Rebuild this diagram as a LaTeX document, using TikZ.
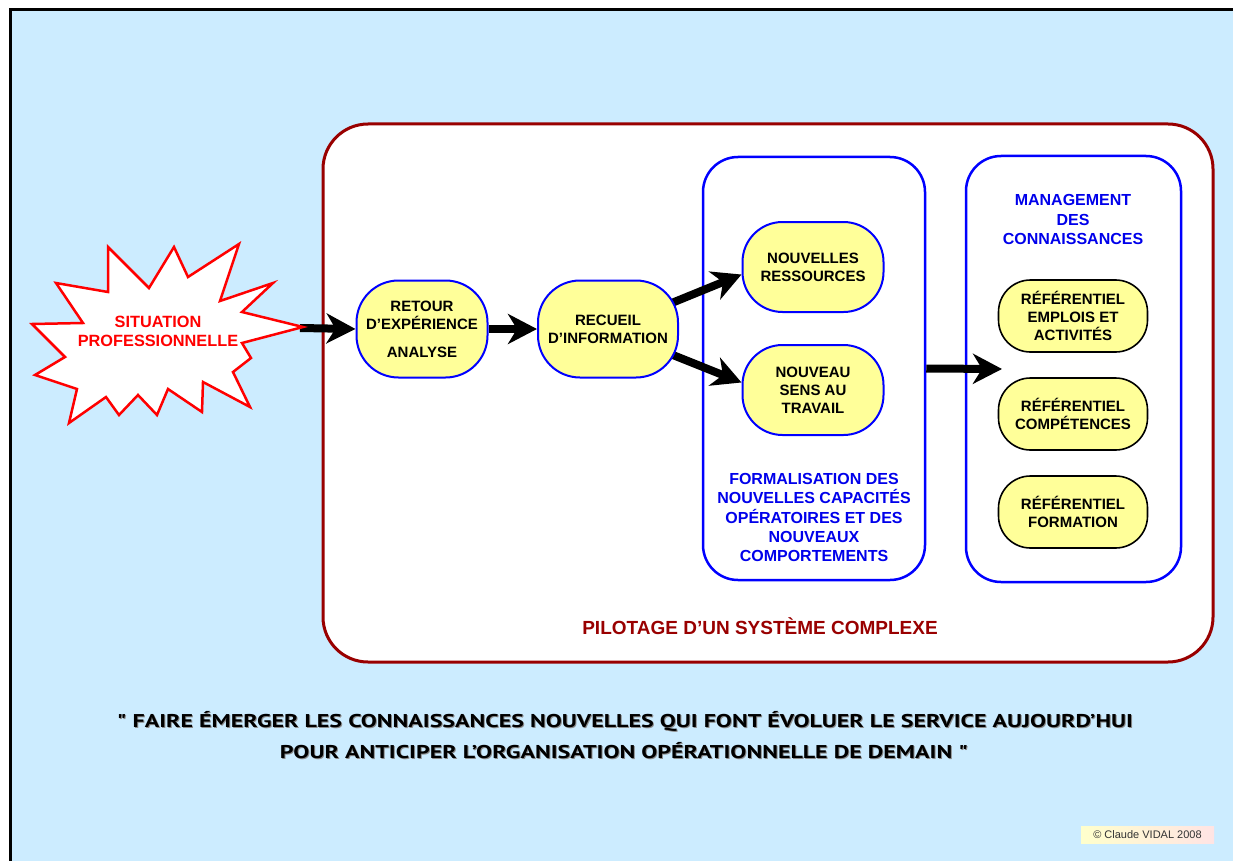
\documentclass[tikz,border=0pt]{standalone}
\usepackage{fontspec}
\setmainfont{Liberation Sans}
\newfontfamily\quotefont{PT Sans}
\usetikzlibrary{arrows.meta}
\pgfdeclarelayer{back}
\pgfdeclarelayer{arrowlayer}
\pgfsetlayers{back,arrowlayer,main}

\definecolor{skyback}{RGB}{204,236,255}
\definecolor{darkred}{RGB}{153,0,0}
\definecolor{pureblue}{RGB}{0,0,255}
\definecolor{titleblue}{RGB}{0,0,235}
\definecolor{paleyellow}{RGB}{255,255,153}
\definecolor{starred}{RGB}{255,0,0}
\definecolor{shadowgray}{RGB}{140,140,140}
\definecolor{creamy}{RGB}{255,255,204}
\definecolor{pinky}{RGB}{255,228,228}

\begin{document}
\begin{tikzpicture}[x=1pt,y=-1pt,
  bigarrow/.style={line width=8pt,-{Stealth[length=29pt,width=30pt,inset=9pt]}},
  stepnode/.style={draw=pureblue,line width=2pt,fill=paleyellow,rounded corners=#1,
    align=center,inner sep=0pt,font=\fontsize{15}{18}\selectfont\bfseries},
  stepnode/.default=40pt,
  refnode/.style={draw=black,line width=1.6pt,fill=paleyellow,rounded corners=32pt,
    minimum width=149pt,minimum height=72pt,align=center,inner sep=0pt,
    font=\fontsize{15}{18}\selectfont\bfseries},
  groupbox/.style={draw=pureblue,line width=2.5pt,fill=white,rounded corners=35pt,inner sep=0pt},
  grouptitle/.style={text=titleblue,align=center,inner sep=0pt,
    font=\fontsize{16}{19.3}\selectfont\bfseries},
  quoteline/.style={inner sep=0pt,font=\quotefont\fontsize{18.5}{22}\selectfont\bfseries}
]
\useasboundingbox (0,0) rectangle (1233,861);

% background, outer frame and the large piloting box
\begin{pgfonlayer}{back}
  \draw[black,line width=3pt,fill=skyback] (10,10) rectangle (1260,890);
  \node[draw=darkred,line width=3pt,fill=white,rounded corners=45pt,
        minimum width=890pt,minimum height=538pt,inner sep=0pt] (pilot) at (768,393) {};
  \node[groupbox,minimum width=222pt,minimum height=423pt] (form) at (814,368.5) {};
  \node[groupbox,minimum width=215pt,minimum height=426pt] (mgmt) at (1073.5,369) {};
\end{pgfonlayer}

% starburst: professional situation
\draw[starred,line width=2.5pt,fill=white,line join=miter,miter limit=20]
  (303,327) -- (242,312) -- (273,283) -- (220,301) -- (239,244) -- (188,277)
  -- (174,247) -- (149,288) -- (108,247) -- (108,292) -- (56,283) -- (83,323)
  -- (32,324) -- (65,357) -- (35,375) -- (77,389) -- (69,423) -- (106,397)
  -- (119,415) -- (138,395) -- (157,415) -- (168,389) -- (202,412) -- (203,382)
  -- (250,407) -- (233,372) -- (251,358) -- (242,343) -- cycle;
\node[text=starred,align=center,inner sep=0pt,font=\fontsize{16.3}{19}\selectfont\bfseries]
  (situation) at (158,331.5) {SITUATION\\PROFESSIONNELLE};
\coordinate (startip) at (300,328);

% process steps
\node[stepnode=42pt,minimum width=131pt,minimum height=97pt] (retour) at (422,329)
  {RETOUR\\D’EXPÉRIENCE\\[10pt]ANALYSE};
\node[stepnode=42pt,minimum width=140pt,minimum height=97pt] (recueil) at (608,329)
  {RECUEIL\\D’INFORMATION};
\node[stepnode,minimum width=141pt,minimum height=90pt] (nres) at (813,267)
  {NOUVELLES\\RESSOURCES};
\node[stepnode,minimum width=141pt,minimum height=90pt] (nsens) at (813,390)
  {NOUVEAU\\SENS AU\\TRAVAIL};

\node[grouptitle] (formtxt) at (814,517.5)
  {FORMALISATION DES\\NOUVELLES CAPACITÉS\\OPÉRATOIRES ET DES\\NOUVEAUX\\COMPORTEMENTS};

% knowledge management
\node[grouptitle] (mgmttxt) at (1073,219.5) {MANAGEMENT\\DES\\CONNAISSANCES};
\node[refnode] (ref1) at (1073,316) {RÉFÉRENTIEL\\EMPLOIS ET\\ACTIVITÉS};
\node[refnode] (ref2) at (1073,414) {RÉFÉRENTIEL\\COMPÉTENCES};
\node[refnode] (ref3) at (1073,512) {RÉFÉRENTIEL\\FORMATION};
\coordinate (mgmtin) at (1002,369);

\node[text=darkred,inner sep=0pt,font=\fontsize{19}{22}\selectfont\bfseries]
  (pilottxt) at (760,626) {PILOTAGE D’UN SYSTÈME COMPLEXE};

% connectors
\begin{pgfonlayer}{arrowlayer}
  \draw[bigarrow] (startip) -- (retour.west);
  \draw[bigarrow] (retour.east) -- (recueil.west);
  \draw[bigarrow] (recueil.center) -- (nres.186);
  \draw[bigarrow] (recueil.center) -- (nsens.174);
  \draw[bigarrow] (form.east) -- (mgmtin);
\end{pgfonlayer}

% motto with its shadow
\node[quoteline,text=shadowgray] (q1s) at (626,722)
  {\resizebox{1016pt}{\height}{" FAIRE ÉMERGER LES CONNAISSANCES NOUVELLES QUI FONT ÉVOLUER LE SERVICE AUJOURD’HUI}};
\node[quoteline] (q1) at (625,721)
  {\resizebox{1016pt}{\height}{" FAIRE ÉMERGER LES CONNAISSANCES NOUVELLES QUI FONT ÉVOLUER LE SERVICE AUJOURD’HUI}};
\node[quoteline,text=shadowgray] (q2s) at (625,752)
  {\resizebox{688pt}{\height}{POUR ANTICIPER L’ORGANISATION OPÉRATIONNELLE DE DEMAIN "}};
\node[quoteline] (q2) at (624,751)
  {\resizebox{688pt}{\height}{POUR ANTICIPER L’ORGANISATION OPÉRATIONNELLE DE DEMAIN "}};

% credit tag
\node[left color=creamy,right color=pinky,minimum width=133pt,minimum height=17pt,
      inner sep=0pt,text=black!80,font=\fontsize{11}{12}\selectfont]
  (credit) at (1147.5,834.5) {© Claude VIDAL 2008};
\end{tikzpicture}
\end{document}
